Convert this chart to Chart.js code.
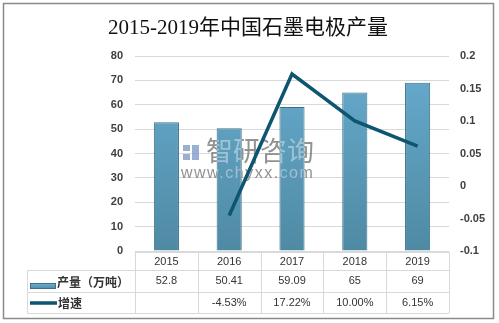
<!DOCTYPE html>
<html>
<head>
<meta charset="utf-8">
<script src="https://cdn.jsdelivr.net/npm/chart.js@4.4.1/dist/chart.umd.min.js"></script>
<style>
    html, body { margin: 0; padding: 0; background: #fff; }
    #wrap { width: 499px; height: 323px; position: relative; }
</style>
</head>
<body>
<div id="wrap"><canvas id="myChart"></canvas></div>
<script>
const years = ['2015', '2016', '2017', '2018', '2019'];
const output = [52.8, 50.41, 59.09, 65, 69];
const growth = [null, -0.0453, 0.1722, 0.10, 0.0615];
const growthText = ['', '-4.53%', '17.22%', '10.00%', '6.15%'];
const leftTicks = [0, 10, 20, 30, 40, 50, 60, 70, 80];
const rightTicks = [-0.1, -0.05, 0, 0.05, 0.1, 0.15, 0.2];
const seriesNames = ['产量（万吨）', '增速'];
const chartTitle = '2015-2019年中国石墨电极产量';

const lineColor = '#0d5570';
const gridColor = '#d9d9d9';

function barFill(context) {
    const area = context.chart.chartArea;
    if (!area) return '#5b9cbd';
    const g = context.chart.ctx.createLinearGradient(0, area.top, 0, area.bottom);
    g.addColorStop(0, '#68acd0');
    g.addColorStop(1, '#4f8aa3');
    return g;
}

function drawMark(c, logo, text) {
    c.fillStyle = logo;
    c.fillRect(183, 145, 7, 6);
    c.fillRect(183, 154, 7, 6);
    c.fillRect(192, 145, 7, 15);
    c.fillStyle = text;
    c.font = '27px "Noto Sans CJK SC"';
    c.textAlign = 'left';
    c.textBaseline = 'middle';
    c.fillText('智研咨询', 206, 151);
    c.font = '16px "Liberation Sans"';
    c.letterSpacing = '1.5px';
    c.fillText('www.chyxx.com', 181, 174);
    c.letterSpacing = '0px';
}

// frame, title, data table under the plot and the watermark
const extras = {
    id: 'extras',
    beforeDraw(chart) {
        const c = chart.ctx;
        c.save();
        c.strokeStyle = '#8a8a8a';
        c.lineWidth = 1.5;
        c.strokeRect(3.5, 3.5, 490, 315);
        c.fillStyle = '#111';
        c.font = '21px "Liberation Serif", "Noto Sans CJK SC", serif';
        c.textAlign = 'center';
        c.textBaseline = 'middle';
        c.fillText(chartTitle, 248, 28);
        c.restore();
    },
    beforeDatasetsDraw(chart) {
        const c = chart.ctx;
        c.save();
        drawMark(c, 'rgba(120,150,195,0.75)', 'rgba(110,110,110,0.75)');
        c.restore();
    },
    afterDatasetsDraw(chart) {
        const c = chart.ctx;
        const area = chart.chartArea;
        const x = chart.scales.x;
        const left = area.left, right = area.right;
        const rows = [area.bottom + 1, 270, 292, 313];
        const legendLeft = 27;
        c.save();

        // lighter watermark over the bars
        c.save();
        c.beginPath();
        chart.getDatasetMeta(1).data.forEach(b => {
            c.rect(b.x - b.width / 2, b.y, b.width, b.base - b.y);
        });
        c.clip();
        drawMark(c, 'rgba(200,215,235,0.6)', 'rgba(215,225,232,0.55)');
        c.restore();

        // table grid
        c.strokeStyle = gridColor;
        c.lineWidth = 1;
        c.beginPath();
        c.moveTo(left, rows[0] + 0.5); c.lineTo(right, rows[0] + 0.5);
        for (let i = 1; i < rows.length; i++) {
            c.moveTo(legendLeft, rows[i] + 0.5); c.lineTo(right, rows[i] + 0.5);
        }
        c.moveTo(legendLeft + 0.5, rows[1]); c.lineTo(legendLeft + 0.5, rows[3]);
        const colW = (right - left) / years.length;
        for (let i = 0; i <= years.length; i++) {
            const xx = Math.round(left + i * colW) + 0.5;
            c.moveTo(xx, rows[0]); c.lineTo(xx, rows[3]);
        }
        c.stroke();

        c.fillStyle = '#333';
        c.font = '11px "Liberation Sans", "DejaVu Sans"';
        c.textAlign = 'center';
        c.textBaseline = 'middle';
        years.forEach((y, i) => {
            const cx = x.getPixelForValue(i);
            c.fillText(y, cx, (rows[0] + rows[1]) / 2 + 1);
            c.fillText(String(output[i]), cx, (rows[1] + rows[2]) / 2);
            c.fillText(growthText[i], cx, (rows[2] + rows[3]) / 2);
        });

        // legend keys
        const g = c.createLinearGradient(0, 284, 0, 289);
        g.addColorStop(0, '#68acd0');
        g.addColorStop(1, '#4f8aa3');
        c.fillStyle = g;
        c.fillRect(30, 283.5, 25, 5);
        c.strokeStyle = '#3d7189';
        c.strokeRect(30.5, 283.5, 25, 5);
        c.strokeStyle = lineColor;
        c.lineWidth = 3.5;
        c.beginPath();
        c.moveTo(30, 303); c.lineTo(57, 303);
        c.stroke();

        c.fillStyle = '#333';
        c.font = 'bold 12px "Noto Sans CJK SC"';
        c.textAlign = 'left';
        c.fillText(seriesNames[0], 57, 282);
        c.fillText(seriesNames[1], 58, 303);
        c.restore();
    }
};

new Chart(document.getElementById('myChart'), {
    data: {
        labels: years,
        datasets: [{
            type: 'line',
            label: seriesNames[1],
            data: growth,
            yAxisID: 'y1',
            borderColor: lineColor,
            borderWidth: 3.5,
            pointRadius: 0,
            tension: 0,
            spanGaps: false,
            order: 1
        }, {
            type: 'bar',
            label: seriesNames[0],
            data: output,
            yAxisID: 'y',
            backgroundColor: barFill,
            borderColor: '#3d7189',
            borderWidth: 1,
            barPercentage: 0.4,
            categoryPercentage: 1,
            order: 2
        }]
    },
    options: {
        responsive: true,
        maintainAspectRatio: false,
        animation: false,
        layout: { padding: { top: 56, bottom: 72, left: 0, right: 0 } },
        plugins: {
            legend: { display: false },
            title: { display: false },
            tooltip: { enabled: false }
        },
        scales: {
            x: { display: false, offset: true },
            y: {
                position: 'left',
                min: 0,
                max: 80,
                afterBuildTicks: (s) => { s.ticks = leftTicks.map(v => ({ value: v })); },
                afterFit: (s) => { s.width = 135; },
                grid: { color: gridColor, drawTicks: false },
                border: { display: false },
                ticks: {
                    padding: 12,
                    color: '#404040',
                    font: { family: '"Liberation Sans", "DejaVu Sans"', size: 11, weight: 'bold' }
                }
            },
            y1: {
                position: 'right',
                min: -0.1,
                max: 0.2,
                afterBuildTicks: (s) => { s.ticks = rightTicks.map(v => ({ value: v })); },
                afterFit: (s) => { s.width = 50; },
                grid: { display: false, drawTicks: false },
                border: { display: false },
                ticks: {
                    padding: 11,
                    color: '#404040',
                    callback: (v) => String(Math.round(v * 100) / 100),
                    font: { family: '"Liberation Sans", "DejaVu Sans"', size: 11, weight: 'bold' }
                }
            }
        }
    },
    plugins: [extras]
});
</script>
</body>
</html>
